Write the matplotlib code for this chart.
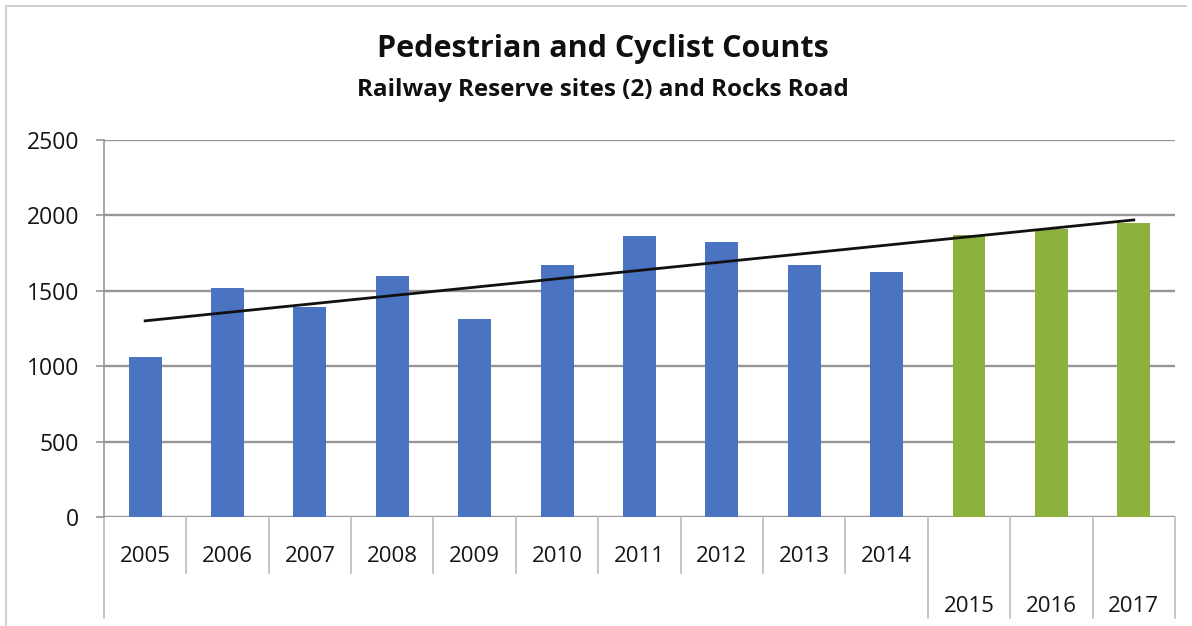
import numpy as np
import matplotlib.pyplot as plt
from matplotlib.transforms import blended_transform_factory
from matplotlib.lines import Line2D

plt.rcParams['font.family'] = ['Open Sans', 'DejaVu Sans']

anos = ["2005", "2006", "2007", "2008", "2009", "2010", "2011",
        "2012", "2013", "2014", "2015", "2016", "2017"]
contagens = [1060, 1519, 1396, 1596, 1312, 1669, 1862,
             1822, 1673, 1622, 1870, 1910, 1951]
n_azul = 10  # 2005-2014 em azul, o resto em verde

azul = "#4a74c2"
verde = "#8cb13c"
cinza = "#969696"

fig = plt.figure(figsize=(11.92, 6.26), dpi=100)
ax = fig.add_axes([0.0872, 0.1741, 0.8985, 0.6022])

x = np.arange(len(anos))
cores = [azul] * n_azul + [verde] * (len(anos) - n_azul)
ax.bar(x, contagens, width=0.4, color=cores, zorder=3)

# linha de tendencia linear
a, b = np.polyfit(x, contagens, 1)
ax.plot([x[0], x[-1]], [b, a * x[-1] + b], color="#111111", lw=2, zorder=4)

ax.set_xlim(-0.5, len(anos) - 0.5)
ax.set_ylim(0, 2500)
ax.set_yticks(range(0, 2501, 500))
ax.yaxis.grid(True, color=cinza, lw=1.7, zorder=0)
ax.tick_params(axis="y", length=6, color=cinza, width=1.2, labelsize=16.5,
               pad=12, labelcolor="#141414")

for lado in ["top", "right", "bottom"]:
    ax.spines[lado].set_visible(False)
ax.spines["left"].set_color(cinza)
ax.spines["left"].set_linewidth(1.2)

ax.set_xticks(x)
ax.set_xticklabels(anos, fontsize=16, color="#141414")
ax.tick_params(axis="x", length=0)
for i, t in enumerate(ax.xaxis.get_major_ticks()):
    t.set_pad(21 if i < n_azul else 57)

# divisorias das categorias abaixo do eixo
tr = blended_transform_factory(ax.transData, ax.transAxes)
for k in range(1, len(anos) + 1):
    fundo = -0.148 if k < n_azul else -0.268
    ax.add_line(Line2D([k - 0.5, k - 0.5], [0, fundo], transform=tr,
                       color="#b5b5b5", lw=1.1, clip_on=False))
ax.add_line(Line2D([-0.5, -0.5], [0, -0.268], transform=tr,
                   color="#b5b5b5", lw=1.1, clip_on=False))

fig.text(0.506, 0.922, "Pedestrian and Cyclist Counts", ha="center", va="center",
         fontsize=22, fontweight="bold", color="#101010")
fig.text(0.506, 0.857, "Railway Reserve sites (2) and Rocks Road", ha="center",
         va="center", fontsize=17.5, fontweight="bold", color="#101010")

# moldura do grafico
fig.add_artist(Line2D([0.005, 0.005], [0.0, 0.99], color="#c8c8c8", lw=1.2))
fig.add_artist(Line2D([0.005, 0.995], [0.99, 0.99], color="#c8c8c8", lw=1.2))

fig.savefig("out.png", dpi=100, facecolor="white")
